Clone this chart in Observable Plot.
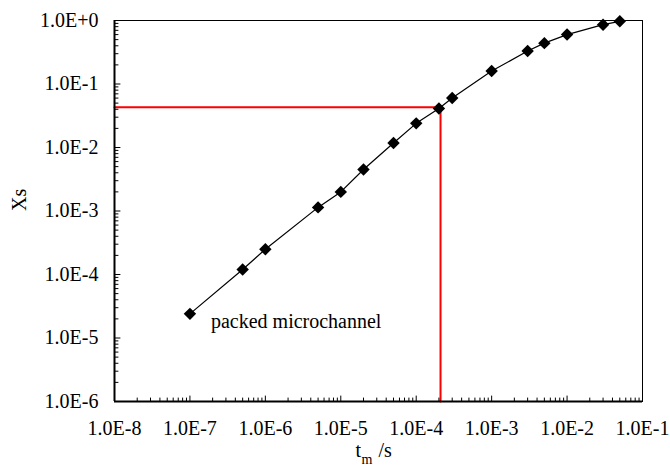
<!DOCTYPE html>
<html>
<head>
<meta charset="utf-8">
<script src="https://cdn.jsdelivr.net/npm/d3@7"></script>
<script src="https://cdn.jsdelivr.net/npm/@observablehq/plot@0.6"></script>
<style>
  html, body { margin: 0; padding: 0; background: #fff; }
  #chart, #chart svg, #chart text { font-family: "Liberation Serif", "Times New Roman", serif !important; }
</style>
</head>
<body>
<div id="chart"></div>
<script>
// Data (log–log)
const tm = [1e-7, 5e-7, 1e-6, 5e-6, 1e-5, 2e-5, 5e-5, 1e-4, 2e-4, 3e-4, 1e-3, 3e-3, 5e-3, 1e-2, 3e-2, 5e-2];
const xs = [2.4e-5, 1.2e-4, 2.5e-4, 1.14e-3, 2.0e-3, 4.5e-3, 1.18e-2, 2.4e-2, 4.1e-2, 6.0e-2, 0.16, 0.33, 0.44, 0.60, 0.86, 0.97];

// Red guide lines (reading point)
const guideX = [1e-8, 2.1e-4, 2.1e-4];
const guideY = [0.043, 0.043, 1e-6];

// Tick values
const xMajor = [1e-8, 1e-7, 1e-6, 1e-5, 1e-4, 1e-3, 1e-2, 1e-1];
const yMajor = [1e-6, 1e-5, 1e-4, 1e-3, 1e-2, 1e-1, 1];
const xMinor = xMajor.slice(0, -1).flatMap(d => [2,3,4,5,6,7,8,9].map(k => k * d));
const yMinor = yMajor.slice(0, -1).flatMap(d => [2,3,4,5,6,7,8,9].map(k => k * d));

// Annotation
const labelText = ["packed microchannel"];
const labelX = [1.9e-7];
const labelY = [1.8e-5];

const fmt = d => {
  const e = Math.round(Math.log10(d));
  return "1.0E" + (e >= 0 ? "+" : "-") + Math.abs(e);
};

const points = tm.map((t, i) => ({t, x: xs[i]}));
const guide = guideX.map((g, i) => ({t: g, x: guideY[i]}));
const labels = labelText.map((s, i) => ({s, t: labelX[i], x: labelY[i]}));

const tickShape = {draw(context, l) { context.moveTo(0, 0); context.lineTo(0, -l); }};
const FONT = '"Liberation Serif", "Times New Roman", serif';
const FS = 20;

const chart = Plot.plot({
  width: 670,
  height: 467,
  marginLeft: 114,
  marginRight: 28,
  marginTop: 20,
  marginBottom: 66,
  style: {fontFamily: FONT, fontSize: FS + "px", background: "#fff", color: "#000"},
  x: {type: "log", domain: [1e-8, 1e-1], axis: null},
  y: {type: "log", domain: [1e-6, 1], axis: null},
  marks: [
    Plot.frame({stroke: "#000", strokeWidth: 1}),
    // guide lines
    Plot.line(guide, {x: "t", y: "x", stroke: "#ff0000", strokeWidth: 2}),
    // data
    Plot.line(points, {x: "t", y: "x", stroke: "#000", strokeWidth: 1.2}),
    Plot.dot(points, {x: "t", y: "x", symbol: "diamond2", r: 5.6, fill: "#000"}),
    // thick left & bottom axis lines
    Plot.ruleY([1e-6], {stroke: "#000", strokeWidth: 2}),
    Plot.ruleX([1e-8], {stroke: "#000", strokeWidth: 2}),
    // inward ticks
    Plot.vector(xMajor, {x: d => d, frameAnchor: "bottom", length: 5.5, rotate: 0, anchor: "start", shape: tickShape, stroke: "#000", strokeWidth: 1}),
    Plot.vector(xMinor, {x: d => d, frameAnchor: "bottom", length: 3.5, rotate: 0, anchor: "start", shape: tickShape, stroke: "#000", strokeWidth: 1}),
    Plot.vector(yMajor, {y: d => d, frameAnchor: "left", length: 5.5, rotate: 90, anchor: "start", shape: tickShape, stroke: "#000", strokeWidth: 1}),
    Plot.vector(yMinor, {y: d => d, frameAnchor: "left", length: 3.5, rotate: 90, anchor: "start", shape: tickShape, stroke: "#000", strokeWidth: 1}),
    // tick labels
    Plot.axisX({ticks: xMajor, tickFormat: fmt, tickSize: 0, tickPadding: 19, label: null, fontSize: FS, fontFamily: FONT, fill: "#000"}),
    Plot.axisY({ticks: yMajor, tickFormat: fmt, tickSize: 0, tickPadding: 16, label: null, fontSize: FS, fontFamily: FONT, fill: "#000"}),
    // annotation
    Plot.text(labels, {x: "t", y: "x", text: "s", textAnchor: "start", fontSize: FS, fontFamily: FONT, fill: "#000"}),
    // axis titles
    Plot.text(["Xs"], {frameAnchor: "left", dx: -95, rotate: -90, fontSize: FS, fontFamily: FONT, fill: "#000"}),
    Plot.text(["t"], {frameAnchor: "bottom", dx: -23, dy: 55, textAnchor: "start", fontSize: FS, fontFamily: FONT, fill: "#000"}),
    Plot.text(["m"], {frameAnchor: "bottom", dx: -17, dy: 62, textAnchor: "start", fontSize: 14, fontFamily: FONT, fill: "#000"}),
    Plot.text(["/s"], {frameAnchor: "bottom", dx: 0, dy: 55, textAnchor: "start", fontSize: FS, fontFamily: FONT, fill: "#000"})
  ]
});

document.getElementById("chart").appendChild(chart);
</script>
</body>
</html>
